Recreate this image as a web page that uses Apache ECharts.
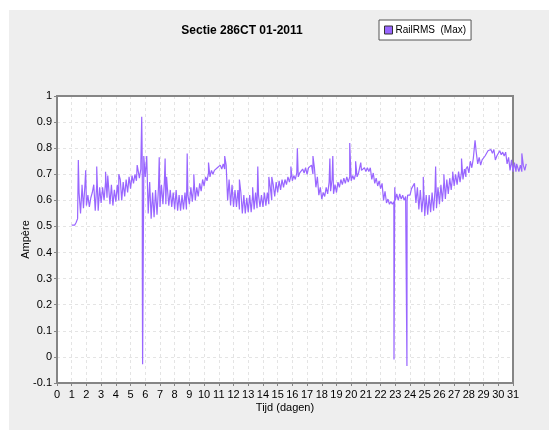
<!DOCTYPE html>
<html><head><meta charset="utf-8">
<script src="https://cdn.jsdelivr.net/npm/echarts@6/dist/echarts.min.js"></script>
<style>html,body{margin:0;padding:0;background:#fff}#c{width:549px;height:430px}</style>
</head><body><div id="c"></div>
<script>
// Envelope samples every 0.2 day from day 1.0 (low edge, high edge of the dense trace)
var startDay = 1.0, stepDay = 0.2;
var lowEdge = [
0.505,0.505,0.53,0.55,0.57,0.58,0.575,0.63,0.56,0.56,
0.59,0.6,0.61,0.585,0.58,0.595,0.6,0.6,0.615,0.63,
0.645,0.665,0.675,0.685,0.69,0.69,0.55,0.53,0.535,0.545,
0.575,0.585,0.585,0.58,0.575,0.565,0.56,0.56,0.565,0.565,
0.585,0.595,0.6,0.615,0.635,0.655,0.675,0.69,0.7,0.71,
0.72,0.72,0.72,0.6,0.58,0.575,0.575,0.565,0.55,0.55,
0.555,0.555,0.565,0.57,0.575,0.575,0.58,0.585,0.6,0.615,
0.63,0.64,0.65,0.66,0.67,0.675,0.68,0.69,0.7,0.705,
0.7,0.72,0.7,0.65,0.62,0.605,0.615,0.625,0.635,0.625,
0.63,0.65,0.66,0.665,0.67,0.675,0.68,0.69,0.7,0.71,
0.71,0.71,0.68,0.665,0.655,0.645,0.6,0.59,0.585,0.585,
0.6,0.6,0.605,0.6,0.6,0.62,0.64,0.59,0.565,0.555,
0.54,0.545,0.555,0.56,0.57,0.585,0.595,0.605,0.625,0.64,
0.655,0.66,0.67,0.68,0.69,0.705,0.725,0.76,0.74,0.735,
0.75,0.77,0.785,0.78,0.755,0.775,0.775,0.77,0.74,0.715,
0.71,0.71,0.71,0.71,0.715
];
var highEdge = [
0.51,0.515,0.63,0.65,0.66,0.62,0.61,0.66,0.66,0.65,
0.65,0.67,0.7,0.66,0.64,0.66,0.68,0.67,0.68,0.69,
0.695,0.7,0.72,0.72,0.73,0.77,0.67,0.63,0.64,0.65,
0.66,0.67,0.65,0.64,0.63,0.64,0.62,0.62,0.63,0.62,
0.65,0.66,0.65,0.665,0.68,0.69,0.705,0.715,0.715,0.725,
0.735,0.74,0.735,0.68,0.66,0.64,0.64,0.63,0.62,0.61,
0.62,0.62,0.63,0.62,0.62,0.63,0.63,0.65,0.66,0.67,
0.675,0.68,0.68,0.69,0.695,0.695,0.705,0.705,0.72,0.725,
0.725,0.735,0.725,0.69,0.65,0.63,0.65,0.67,0.68,0.66,
0.67,0.68,0.685,0.69,0.69,0.695,0.7,0.705,0.715,0.725,
0.725,0.725,0.705,0.685,0.675,0.665,0.635,0.605,0.595,0.595,
0.625,0.625,0.62,0.615,0.615,0.645,0.665,0.65,0.64,0.62,
0.62,0.62,0.63,0.64,0.65,0.66,0.67,0.68,0.685,0.695,
0.7,0.71,0.71,0.72,0.73,0.75,0.76,0.785,0.765,0.755,
0.77,0.79,0.795,0.795,0.77,0.79,0.785,0.785,0.765,0.755,
0.745,0.73,0.735,0.735,0.74
];
// Isolated spikes and dips (day, ampère)
var spikeDays = [1.45,1.7,1.95,2.7,3.3,3.45,4.2,5.45,5.7,5.76,5.78,5.80,5.82,5.9,6.95,7.35,7.45,8.85,9.3,10.3,11.4,12.4,13.3,13.65,14.4,14.6,15.3,15.9,16.34,16.7,17.3,17.4,18.55,18.75,19.9,20.3,20.65,22.91,22.96,23.79,23.84,24.35,24.9,25.74,26.3,26.9,27.5,27.8,28.42,31.25,31.6];
var spikeVals = [0.755,0.66,0.715,0.73,0.71,0.695,0.70,0.735,0.74,0.92,0.825,0.34,-0.028,0.77,0.765,0.76,0.69,0.78,0.70,0.745,0.77,0.68,0.65,0.73,0.69,0.69,0.68,0.73,0.80,0.725,0.74,0.77,0.76,0.77,0.82,0.75,0.745,-0.01,0.65,-0.035,0.62,0.67,0.69,0.73,0.7,0.71,0.76,0.72,0.83,0.74,0.78];

var yTicks = [-0.1,0,0.1,0.2,0.3,0.4,0.5,0.6,0.7,0.8,0.9,1];
var xTicks = [0,1,2,3,4,5,6,7,8,9,10,11,12,13,14,15,16,17,18,19,20,21,22,23,24,25,26,27,28,29,30,31];

var pts = [];
for (var i = 0; i < lowEdge.length; i++) {
  var d = startDay + i * stepDay;
  pts.push([+d.toFixed(2), lowEdge[i]]);
  pts.push([+(d + stepDay / 2).toFixed(2), highEdge[i]]);
}
for (var j = 0; j < spikeDays.length; j++) pts.push([spikeDays[j], spikeVals[j]]);
pts.sort(function (a, b) { return a[0] - b[0]; });

var FONT = 'Liberation Sans';
var xMin = xTicks[0], xMax = xTicks[xTicks.length - 1];
var gridL = 57, gridT = 96, gridW = 456, gridH = 287;
var chart = echarts.init(document.getElementById('c'), null, {renderer: 'canvas'});
chart.setOption({
  backgroundColor: '#ffffff',
  animation: false,
  graphic: [
    {type: 'rect', z: -100, silent: true, shape: {x: 9, y: 10, width: 540, height: 420}, style: {fill: '#eeeeee'}},
    {type: 'rect', z: 3, silent: true, shape: {x: gridL, y: gridT, width: gridW, height: gridH}, style: {fill: null, stroke: '#858585', lineWidth: 2}}
  ],
  title: {text: 'Sectie 286CT 01-2011', left: 237, top: 20, textAlign: 'center',
    textStyle: {fontFamily: FONT, fontSize: 12, fontWeight: 'bold', color: '#000'}},
  legend: {left: 379, top: 20, padding: [5, 5, 5, 5], backgroundColor: '#fff', borderColor: '#555', borderWidth: 1,
    itemWidth: 8, itemHeight: 8, itemGap: 4, icon: 'rect',
    itemStyle: {borderColor: '#333', borderWidth: 1},
    textStyle: {fontFamily: FONT, fontSize: 10, color: '#000', padding: [0, 0, 0, -2]}},
  grid: [
    {left: gridL, top: gridT, width: gridW, height: gridH, show: true, backgroundColor: '#ffffff', borderWidth: 0},
    {left: gridL, top: gridT, width: gridW * (xMax + 1 - xMin) / (xMax - xMin), height: gridH, show: false}
  ],
  xAxis: [{type: 'value', gridIndex: 0, min: xMin, max: xMax, interval: 1,
    name: 'Tijd (dagen)', nameLocation: 'middle', nameGap: 19, nameMoveOverlap: false,
    nameTextStyle: {fontFamily: FONT, fontSize: 11, color: '#000'},
    axisLine: {onZero: false, lineStyle: {color: '#858585', width: 2}},
    axisTick: {show: true, length: 3, lineStyle: {color: '#858585'}},
    axisLabel: {fontFamily: FONT, fontSize: 11, color: '#000', margin: 6},
    splitLine: {show: true, lineStyle: {color: '#e4e4e4', type: [3, 3]}}},
    {type: 'value', gridIndex: 1, min: xMin, max: xMax + 1, show: false}],
  yAxis: [{type: 'value', gridIndex: 0, min: yTicks[0], max: yTicks[yTicks.length - 1], interval: 0.1,
    name: 'Ampère', nameLocation: 'middle', nameGap: 26, nameRotate: 90, nameMoveOverlap: false,
    nameTextStyle: {fontFamily: FONT, fontSize: 11, color: '#000'},
    axisLine: {show: true, onZero: false, lineStyle: {color: '#858585', width: 2}},
    axisTick: {show: true, length: 3, lineStyle: {color: '#858585'}},
    axisLabel: {fontFamily: FONT, fontSize: 11, color: '#000', margin: 5,
      formatter: function (v) { return String(+v.toFixed(2)); }},
    splitLine: {show: true, lineStyle: {color: '#e4e4e4', type: [3, 3]}}},
    {type: 'value', gridIndex: 1, min: yTicks[0], max: yTicks[yTicks.length - 1], show: false}],
  series: [{name: 'RailRMS  (Max)', type: 'line', xAxisIndex: 1, yAxisIndex: 1, data: pts, showSymbol: false, symbol: 'none', clip: false, z: 5,
    lineStyle: {color: '#9966ff', width: 1.2}, itemStyle: {color: '#9966ff'}}]
});
</script></body></html>
